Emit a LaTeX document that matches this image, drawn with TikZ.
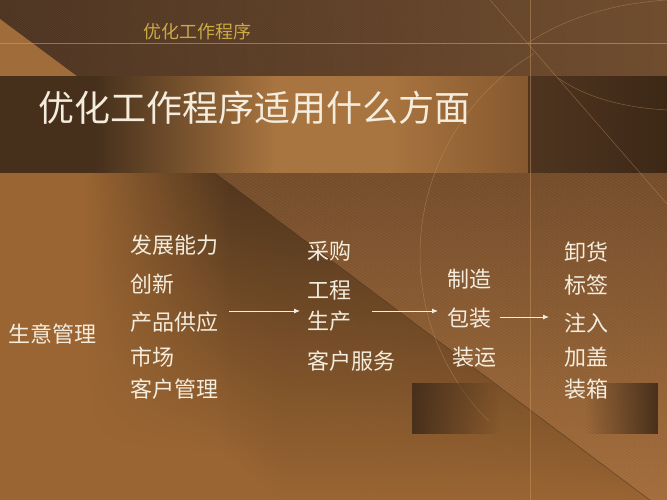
\documentclass[tikz,border=0pt]{standalone}
\usepackage{fontspec}
\setmainfont{Noto Sans CJK SC}
\usetikzlibrary{arrows.meta,fadings}

\definecolor{topdark}{HTML}{4C3320}
\definecolor{topright}{HTML}{6E4A2B}
\definecolor{tricol}{HTML}{A06C3A}
\definecolor{bandL}{HTML}{46301C}
\definecolor{bandM}{HTML}{A8743F}
\definecolor{bandE}{HTML}{86582F}
\definecolor{bandR}{HTML}{4F3520}
\definecolor{bandRR}{HTML}{3D2816}
\definecolor{lowbase}{HTML}{9A6532}
\definecolor{lowdark}{HTML}{48301B}
\definecolor{hatchtop}{HTML}{744C2A}
\definecolor{hatchbot}{HTML}{A56E3B}
\definecolor{linecol}{HTML}{D09A62}
\definecolor{txtcol}{HTML}{F4ECDD}
\definecolor{headcol}{HTML}{CBAA46}

\pgfdeclarehorizontalshading{bandshade}{100bp}{color(0bp)=(bandL); color(25bp)=(bandL);
  color(34bp)=(bandL); color(51bp)=(bandM); color(62bp)=(bandM); color(75bp)=(bandE); color(100bp)=(bandE)}
\tikzfading[name=fadeout right, left color=transparent!0, right color=transparent!100]
\tikzfading[name=fadeout left, left color=transparent!100, right color=transparent!0]

\tikzset{
  item/.style={anchor=base west, inner sep=0pt, text=txtcol, font=\fontsize{22}{26}\selectfont},
  flow/.style={draw=txtcol, line width=0.9pt, -{Latex[length=6pt,width=5pt]}},
  deco/.style={draw=linecol, line width=0.5pt, opacity=0.45},
}

\begin{document}
\begin{tikzpicture}[x=1pt,y=-1pt]
\useasboundingbox (0,0) rectangle (667,500);
\fill[lowbase] (0,0) rectangle (667,500);
\foreach \x in {0,4,...,664} {
  \pgfmathsetmacro\yt{max(173,173+(\x-215)*0.748)}
  \pgfmathtruncatemacro\pp{max(0,min(92,(\x-80)*0.62))*max(0,1-(\yt-173)/360)}
  \pgfmathsetmacro\yb{min(\yt+280,500)}
  \shade[top color=lowdark!\pp!lowbase, middle color=lowdark!\pp!lowbase!55!lowbase, bottom color=lowbase] (\x,\yt-6) rectangle (\x+4.6,\yb);
}
\begin{scope}
\clip (215,173) -- (667,173) -- (667,513) -- cycle;
\shade[top color=hatchtop, bottom color=hatchbot] (215,173) rectangle (667,513);
\foreach \i in {-420,-417,...,340}
  \draw[white, opacity=0.07, line width=0.4pt] (200,173+\i) -- (667,453+\i);
\end{scope}
\draw[lowdark, line width=0.6pt, opacity=0.6] (215,173) -- (667,513);

\shade[left color=topdark, right color=topright] (0,0) rectangle (667,77);
\begin{scope}
\clip (0,0) rectangle (667,77);
\foreach \i in {-120,-117,...,667}
  \draw[white, opacity=0.06, line width=0.4pt] (\i,77) -- (\i+110,0);
\end{scope}
\fill[tricol] (0,19) -- (78,77) -- (0,77) -- cycle;
\draw[linecol, line width=0.6pt, opacity=0.6] (0,43) -- (667,43);

\shade[shading=bandshade] (0,77) rectangle (528,173);
\shade[left color=bandR, right color=bandRR] (528,77) rectangle (667,173);

\draw[deco] (530,0) -- (530,500);
\draw[deco] (490,0) -- (667,204);
\draw[deco] (655,255) ++(239:235) arc[start angle=239, end angle=135, radius=235];
\draw[deco] (528,43) .. controls (570,15) and (620,3) .. (667,0);
\draw[deco] (558,78) .. controls (590,100) and (630,108) .. (667,110);

\fill[lowdark, path fading=fadeout right] (412,383) rectangle (500,434);
\fill[lowdark, path fading=fadeout left] (585,383) rectangle (658,434);

\node[anchor=base west, inner sep=0pt, text=headcol, font=\fontsize{18}{20}\selectfont] (head) at (143,39) {优化工作程序};
\node[anchor=base west, inner sep=0pt, text=txtcol, font=\fontsize{36}{40}\selectfont] (title) at (38,122) {优化工作程序适用什么方面};

\node[item] (biz) at (8,342) {生意管理};
\node[item] (dev) at (130,253) {发展能力};
\node[item] (inno) at (130,292) {创新};
\node[item] (supply) at (130,330) {产品供应};
\node[item] (market) at (130,365) {市场};
\node[item] (cust) at (130,397) {客户管理};
\node[item] (buy) at (307,259) {采购};
\node[item] (eng) at (307,298) {工程};
\node[item] (prod) at (307,329) {生产};
\node[item] (serv) at (307,369) {客户服务};
\node[item] (make) at (447,287) {制造};
\node[item] (pack) at (447,326) {包装};
\node[item] (ship) at (452,365) {装运};
\node[item] (unload) at (564,260) {卸货};
\node[item] (label) at (564,293) {标签};
\node[item] (fill) at (564,331) {注入};
\node[item] (cap) at (564,365) {加盖};
\node[item] (box) at (564,397) {装箱};

\coordinate (a1s) at (229,311);
\coordinate (a1e) at (300,311);
\coordinate (a2s) at (372,311);
\coordinate (a2e) at (438,311);
\coordinate (a3s) at (500,317);
\coordinate (a3e) at (549,317);
\draw[flow] (a1s) -- (a1e);
\draw[flow] (a2s) -- (a2e);
\draw[flow] (a3s) -- (a3e);
\end{tikzpicture}
\end{document}
